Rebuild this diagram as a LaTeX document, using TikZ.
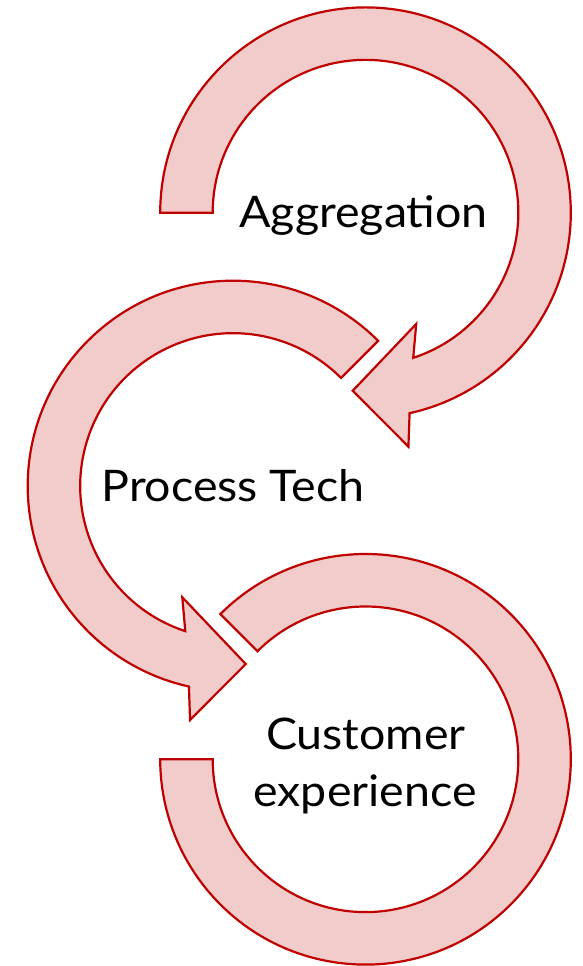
\documentclass[tikz,border=0pt]{standalone}
\usepackage{fontspec}
\setmainfont{Lato}[FakeStretch=1.07]
\usetikzlibrary{calc}
\definecolor{arrowfill}{HTML}{F2CBCB}
\definecolor{arrowline}{HTML}{C00000}
\begin{document}
\begin{tikzpicture}[x=1pt,y=1pt,
  circarrow/.style={fill=arrowfill, draw=arrowline, line width=2.2pt, line join=miter},
  lbl/.style={font=\fontsize{43.5}{52}\selectfont, text=black, inner sep=0pt, anchor=base}]
\useasboundingbox (0,0) rectangle (582,966);
\def\Ro{205.3pt}
\def\Ri{152.8pt}
\coordinate (c1) at (365.5,753.3);
\coordinate (c2) at (233,480);
\coordinate (c3) at (365.5,206.7);
% arrow 1
\draw[circarrow] ($(c1)+(180:\Ro)$) arc[start angle=180, end angle=-77.6, radius=\Ro]
  -- ($(c1)+(-79.6:237.9pt)$) -- ($(c1)+(-94.1:178.5pt)$) -- ($(c1)+(-65.5:122.3pt)$)
  -- ($(c1)+(-71.8:\Ri)$) arc[start angle=-71.8, end angle=180, radius=\Ri] -- cycle;
% arrow 2
\draw[circarrow] ($(c2)+(45:\Ro)$) arc[start angle=45, end angle=257.6, radius=\Ro]
  -- ($(c2)+(259.6:237.9pt)$) -- ($(c2)+(274.1:178.5pt)$) -- ($(c2)+(245.5:122.3pt)$)
  -- ($(c2)+(251.8:\Ri)$) arc[start angle=251.8, end angle=45, radius=\Ri] -- cycle;
% arrow 3
\draw[circarrow] ($(c3)+(135:\Ro)$) arc[start angle=135, end angle=-180, radius=\Ro]
  -- ($(c3)+(180:\Ri)$) arc[start angle=-180, end angle=135, radius=\Ri] -- cycle;
% labels
\node[lbl] (agg) at (363.7,738.3) {Aggregation};
\node[lbl] (proc) at (233,464.3) {Process Tech};
\node[lbl] (cust) at (365.8,216) {Customer};
\node[lbl] (expr) at (365,159.3) {experience};
\end{tikzpicture}
\end{document}
